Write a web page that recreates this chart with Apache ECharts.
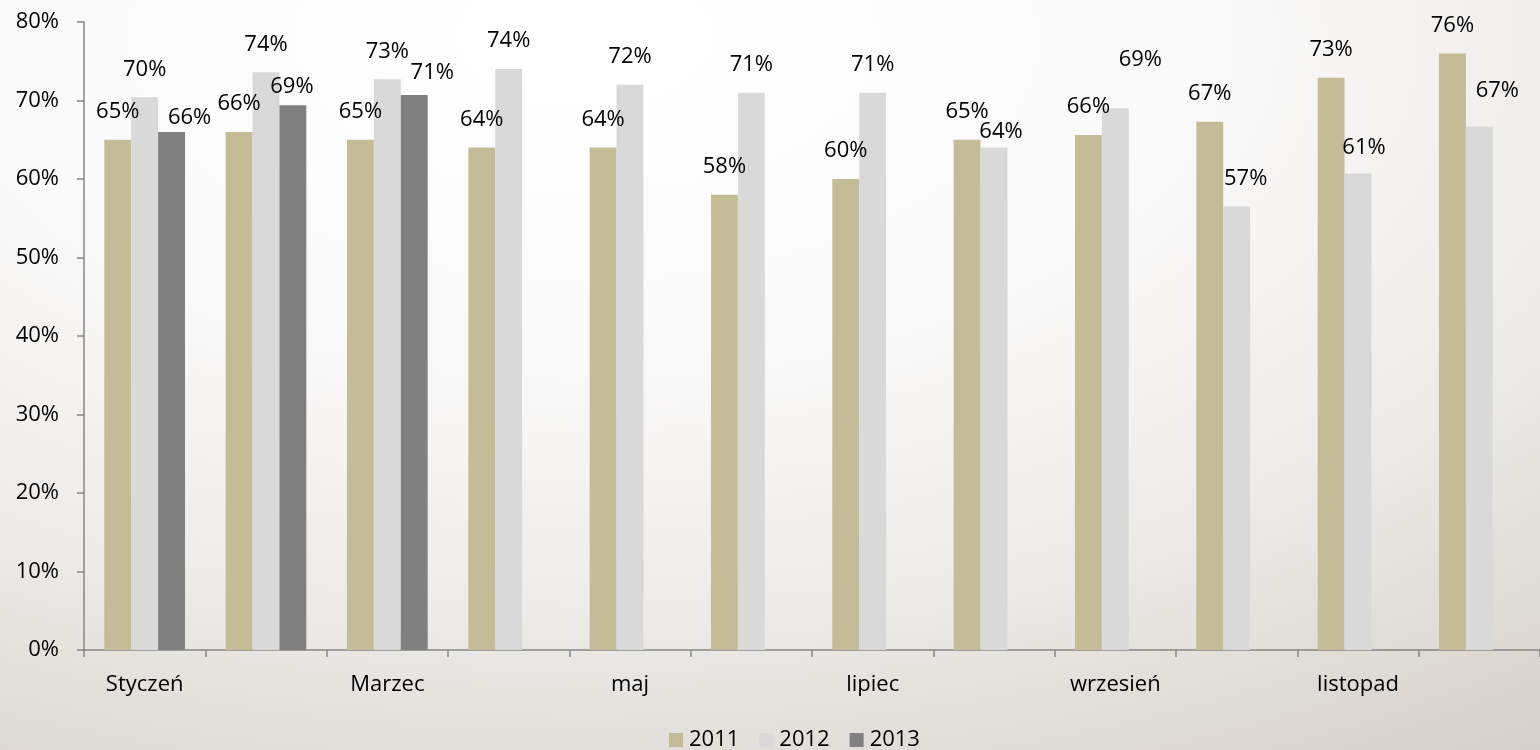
<!DOCTYPE html>
<html>
<head>
<meta charset="utf-8">
<script src="https://cdn.jsdelivr.net/npm/echarts@6/dist/echarts.min.js"></script>
<style>
  html, body { margin: 0; padding: 0; width: 1540px; height: 750px; overflow: hidden; }
  body { background: radial-gradient(ellipse 110% 120% at 38% 5%, #ffffff 0%, #fbfafa 35%, #ecebe8 65%, #dcd8d1 88%, #d3cfc6 100%); }
  #chart { width: 1540px; height: 750px; }
</style>
</head>
<body>
<div id="chart"></div>
<script>
// ---- data ----
const categories = ['Styczeń', 'Luty', 'Marzec', 'Kwiecień', 'maj', 'czerwiec', 'lipiec', 'sierpień', 'wrzesień', 'październik', 'listopad', 'grudzień'];
const seriesNames = ['2011', '2012', '2013'];
const values2011 = [65, 66, 65, 64, 64, 58, 60, 65, 65.6, 67.3, 72.9, 76];
const values2012 = [70.4, 73.6, 72.7, 74, 72, 71, 71, 64, 69, 56.5, 60.7, 66.7];
const values2013 = [66, 69.4, 70.7, null, null, null, null, null, null, null, null, null];
const yTicks = [0, 10, 20, 30, 40, 50, 60, 70, 80];

// ---- styling (label nudges: [dx, dy] per series index / category index) ----
const colors = ['#c4bc96', '#d9d9d9', '#808080'];
const labelNudges = {
  '2-0': [18, 14], '2-1': [-1, 10], '2-2': [18, 6],
  '1-7': [7, 12], '1-8': [25, -21], '1-9': [9, 0], '1-10': [6, 2], '1-11': [18, -8]
};
const FONT = 'Open Sans';
const FS = 22;

function buildData(vals, si) {
  return vals.map((v, ci) => {
    const n = labelNudges[si + '-' + ci];
    if (v == null) return null;
    return n ? { value: v, label: { offset: n } } : v;
  });
}

const allVals = [values2011, values2012, values2013];
const chart = echarts.init(document.getElementById('chart'), null, { renderer: 'canvas' });
chart.setOption({
  animation: false,
  backgroundColor: 'transparent',
  textStyle: { fontFamily: FONT },
  grid: { left: 84, right: -8, top: 22, bottom: 100, containLabel: false },
  legend: {
    data: seriesNames,
    top: 729,
    padding: 0,
    left: 669,
    itemWidth: 14,
    itemHeight: 14,
    itemGap: 20,
    icon: 'rect',
    textStyle: { fontSize: FS, color: '#000', fontFamily: FONT, padding: [0, 0, 0, 1] }
  },
  xAxis: {
    type: 'category',
    data: categories,
    axisLine: { lineStyle: { color: '#868686', width: 1.5 } },
    axisTick: { show: true, length: 7, lineStyle: { color: '#868686', width: 1.5 }, interval: 0 },
    axisLabel: { interval: 1, margin: 24, fontSize: FS, color: '#000', fontFamily: FONT },
    splitLine: { show: false }
  },
  yAxis: {
    type: 'value',
    min: yTicks[0],
    max: yTicks[yTicks.length - 1],
    interval: yTicks[1] - yTicks[0],
    axisLine: { show: true, lineStyle: { color: '#868686', width: 1.5 } },
    axisTick: { show: true, length: 7, lineStyle: { color: '#868686', width: 1.5 } },
    axisLabel: { margin: 25, fontSize: FS, color: '#000', fontFamily: FONT, formatter: v => v + '%' },
    splitLine: { show: false }
  },
  series: seriesNames.map((name, si) => ({
    name: name,
    type: 'bar',
    data: buildData(allVals[si], si),
    barGap: '0%',
    barCategoryGap: '33.5%',
    itemStyle: { color: colors[si] },
    label: {
      show: true,
      position: 'top',
      distance: 17,
      fontSize: FS,
      color: '#000',
      fontFamily: FONT,
      formatter: p => Math.round(p.value) + '%'
    }
  }))
});
</script>
</body>
</html>
